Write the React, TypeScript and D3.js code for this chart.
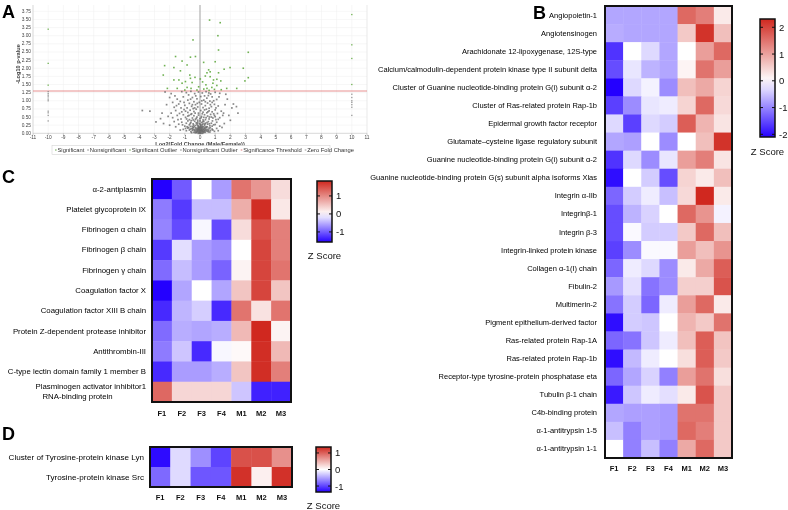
import { useEffect, useRef } from 'react';
import * as d3 from 'd3';

const FONT = '"Liberation Sans", Arial, Helvetica, sans-serif';
const BLUE = '#2400ff';
const RED = '#d0281f';
const SAMPLES = ['F1', 'F2', 'F3', 'F4', 'M1', 'M2', 'M3'];

// ---- Panel A: volcano plot ----
const X_TICKS = d3.range(-11, 12);
const Y_TICKS = d3.range(0, 3.76, 0.25);
const SIG_THRESHOLD = 1.3;
const LEGEND_ITEMS = ['Significant', 'Nonsignificant', 'Significant Outlier', 'Nonsignificant Outlier', 'Significance Threshold', 'Zero Fold Change'];
const LEGEND_COLORS = ['#6aa84f', '#888', '#6aa84f', '#888', '#e07a7a', '#999'];

const SIG_POINTS: [number, number][] = [
  [0.63, 3.48], [1.33, 3.4], [-0.46, 2.87], [1.18, 3.0], [1.22, 2.56], [3.18, 2.49],
  [-1.61, 2.36], [-0.63, 2.34], [-0.3, 2.36], [-1.18, 2.22], [0.24, 2.18], [1.0, 2.2],
  [-2.33, 2.08], [-1.72, 2.02], [-0.85, 2.1], [1.98, 2.02], [2.85, 2.0], [1.59, 1.97],
  [-1.29, 1.92], [0.57, 1.95], [-2.42, 1.79], [1.22, 1.86], [3.18, 1.71], [2.96, 1.61],
  [-1.72, 1.64], [-1.39, 1.64], [-0.63, 1.69], [0.02, 1.67], [0.35, 1.76], [0.67, 1.74],
  [0.89, 1.64], [1.11, 1.66], [1.37, 1.61], [0.85, 1.54], [-0.96, 1.59], [-1.18, 1.54],
  [-0.52, 1.56], [-2.15, 1.38], [-1.5, 1.38], [-0.85, 1.41], [-0.59, 1.38], [-0.09, 1.43],
  [0.46, 1.38], [0.78, 1.41], [1.11, 1.47], [1.76, 1.38], [2.42, 1.38], [0.67, 1.89],
  [0.46, 1.86], [-0.67, 1.79], [-0.33, 1.72], [0.39, 1.49], [0.17, 1.58], [0.95, 1.35],
  [-0.2, 1.33], [0.6, 1.32], [-1.0, 1.33], [1.4, 1.34], [0.25, 1.36],
];

const NONSIG_POINTS: [number, number][] = [
  [-2.3, 1.27], [-1.9, 1.22], [-1.2, 1.28], [-0.9, 1.25], [-0.6, 1.29], [-0.35, 1.22], [-0.1, 1.27],
  [0.15, 1.24], [0.4, 1.28], [0.7, 1.21], [1.0, 1.26], [1.3, 1.23], [1.7, 1.2], [-0.75, 1.18], [0.55, 1.16],
  [-2.0, 1.1], [-1.5, 1.05], [-1.1, 1.12], [-0.8, 1.02], [-0.5, 1.1], [-0.2, 1.06], [0.05, 1.13],
  [0.25, 1.02], [0.45, 1.08], [0.8, 1.12], [1.1, 1.04], [1.8, 1.05], [-1.3, 0.98], [-0.4, 0.97],
  [0.65, 0.99], [0.3, 1.15], [-0.05, 0.95],
  [-1.7, 0.8], [-1.4, 0.9], [-1.0, 0.86], [-0.7, 0.92], [-0.55, 0.83], [-0.3, 0.88], [-0.15, 0.81],
  [0.1, 0.9], [0.35, 0.85], [0.5, 0.93], [0.75, 0.82], [0.95, 0.89], [1.2, 0.84], [2.2, 0.9], [2.1, 0.78],
  [-2.2, 0.88], [-0.85, 0.78], [0.6, 0.77], [0.2, 0.79], [-0.45, 0.76],
  [-3.8, 0.7], [-3.3, 0.68], [-1.9, 0.62], [-1.6, 0.7], [-1.2, 0.66], [-1.05, 0.73], [-0.8, 0.64],
  [-0.65, 0.71], [-0.4, 0.67], [-0.25, 0.74], [-0.1, 0.62], [0.05, 0.7], [0.2, 0.65], [0.3, 0.72],
  [0.45, 0.63], [0.6, 0.69], [0.8, 0.66], [1.0, 0.72], [1.15, 0.61], [1.4, 0.68], [2.5, 0.62],
  [-0.55, 0.6], [0.9, 0.6], [-1.35, 0.61],
  [-2.6, 0.45], [-2.1, 0.52], [-1.8, 0.48], [-1.5, 0.55], [-1.25, 0.44], [-1.1, 0.57], [-0.95, 0.49],
  [-0.8, 0.53], [-0.7, 0.42], [-0.6, 0.58], [-0.5, 0.47], [-0.4, 0.54], [-0.3, 0.43], [-0.2, 0.5],
  [-0.1, 0.56], [0.0, 0.45], [0.1, 0.52], [0.2, 0.41], [0.3, 0.57], [0.4, 0.48], [0.5, 0.53],
  [0.6, 0.44], [0.7, 0.58], [0.85, 0.47], [1.0, 0.51], [1.2, 0.43], [1.5, 0.55], [1.9, 0.55],
  [2.0, 0.4], [-0.15, 0.4], [0.25, 0.49], [-0.45, 0.41], [0.75, 0.5],
  [-2.9, 0.35], [-2.4, 0.3], [-2.0, 0.25], [-1.7, 0.36], [-1.4, 0.28], [-1.2, 0.34], [-1.0, 0.22],
  [-0.9, 0.31], [-0.8, 0.38], [-0.7, 0.26], [-0.6, 0.33], [-0.5, 0.21], [-0.45, 0.29], [-0.35, 0.37],
  [-0.3, 0.24], [-0.25, 0.32], [-0.2, 0.27], [-0.15, 0.35], [-0.1, 0.22], [-0.05, 0.3], [0.0, 0.38],
  [0.05, 0.25], [0.1, 0.33], [0.15, 0.21], [0.2, 0.29], [0.25, 0.37], [0.3, 0.24], [0.35, 0.31],
  [0.4, 0.2], [0.5, 0.28], [0.55, 0.36], [0.65, 0.23], [0.75, 0.31], [0.9, 0.26], [1.1, 0.34],
  [1.3, 0.22], [1.6, 0.3], [-1.6, 0.2],
  [-1.1, 0.12], [-0.9, 0.08], [-0.8, 0.16], [-0.7, 0.1], [-0.6, 0.05], [-0.55, 0.14], [-0.5, 0.09],
  [-0.45, 0.18], [-0.4, 0.03], [-0.35, 0.12], [-0.3, 0.07], [-0.28, 0.17], [-0.25, 0.02], [-0.2, 0.1],
  [-0.18, 0.15], [-0.15, 0.05], [-0.12, 0.19], [-0.1, 0.08], [-0.08, 0.13], [-0.05, 0.02], [-0.03, 0.17],
  [0.0, 0.06], [0.0, 0.11], [0.02, 0.15], [0.04, 0.01], [0.06, 0.09], [0.08, 0.18], [0.1, 0.04],
  [0.12, 0.13], [0.15, 0.07], [0.18, 0.16], [0.2, 0.02], [0.22, 0.11], [0.25, 0.06], [0.28, 0.15],
  [0.3, 0.09], [0.35, 0.03], [0.38, 0.13], [0.42, 0.18], [0.45, 0.07], [0.5, 0.12], [0.55, 0.04],
  [0.6, 0.16], [0.7, 0.09], [0.8, 0.13], [0.95, 0.06], [1.1, 0.15], [-0.02, 0.0], [0.07, 0.0],
  [-0.12, 0.0], [0.16, 0.0], [-0.07, 0.04], [0.03, 0.08], [-0.04, 0.12], [0.1, 0.1], [-0.16, 0.09],
  [0.19, 0.05], [-0.09, 0.16], [0.13, 0.19], [-0.22, 0.06], [0.26, 0.12],
  // denser core
  [-1.05, 0.95], [-0.62, 1.05], [0.12, 1.0], [0.9, 1.0], [1.25, 1.12], [-0.28, 1.15], [0.58, 1.24],
  [-1.55, 0.85], [-0.95, 0.68], [-0.35, 0.78], [0.42, 0.74], [0.68, 0.88], [1.05, 0.78], [-0.18, 0.92],
  [-1.25, 0.78], [-0.72, 0.55], [-0.32, 0.62], [0.15, 0.6], [0.52, 0.66], [0.95, 0.55], [1.3, 0.48],
  [-1.45, 0.42], [-0.88, 0.44], [-0.58, 0.39], [-0.24, 0.46], [0.08, 0.48], [0.36, 0.42], [0.62, 0.5],
  [0.82, 0.38], [1.05, 0.42], [-1.15, 0.26], [-0.85, 0.2], [-0.65, 0.3], [-0.42, 0.25], [-0.18, 0.31],
  [0.02, 0.28], [0.18, 0.35], [0.32, 0.28], [0.46, 0.33], [0.62, 0.29], [0.8, 0.22], [1.0, 0.27],
  [-0.75, 0.18], [-0.62, 0.21], [-0.48, 0.15], [-0.38, 0.2], [-0.26, 0.13], [-0.14, 0.24], [-0.06, 0.19],
  [0.05, 0.22], [0.14, 0.26], [0.24, 0.2], [0.33, 0.17], [0.48, 0.2], [0.58, 0.1], [0.68, 0.17],
  [0.85, 0.1], [-0.95, 0.15], [-0.32, 0.02], [-0.21, 0.03], [-0.14, 0.12], [-0.01, 0.03], [0.09, 0.14],
  [0.17, 0.1], [0.27, 0.03], [0.33, 0.07], [0.4, 0.1], [-0.35, 0.08], [-0.45, 0.11], [-0.55, 0.02],
  [0.52, 0.07], [0.65, 0.04], [-0.65, 0.13], [-0.05, 0.09], [0.01, 0.19], [0.11, 0.07], [-0.11, 0.14],
  [1.2, 0.08], [1.45, 0.18], [-1.3, 0.1], [1.55, 0.62], [-1.8, 0.95], [2.4, 0.82], [-2.5, 0.62],
  [1.65, 0.88], [-1.65, 1.15], [0.35, 0.97], [-0.5, 0.88], [0.8, 0.95],
];

const SIG_OUTLIERS: [number, number][] = [
  [-10, 3.2], [-10, 2.15], [-10, 1.48], [10, 3.65], [10, 2.72], [10, 2.3], [10, 1.5],
];
const NONSIG_OUTLIERS: [number, number][] = [
  [-10, 1.28], [-10, 1.22], [-10, 1.17], [-10, 1.12], [-10, 1.05], [-10, 1.0], [-10, 0.68],
  [-10, 0.63], [-10, 0.55], [-10, 0.38],
  [10, 1.2], [10, 1.1], [10, 1.0], [10, 0.95], [10, 0.88], [10, 0.8], [10, 0.55],
];

// ---- Panel B ----
const B_PROTEINS = [
  'Angiopoietin-1',
  'Angiotensinogen',
  'Arachidonate 12-lipoxygenase, 12S-type',
  'Calcium/calmodulin-dependent protein kinase type II subunit delta',
  'Cluster of Guanine nucleotide-binding protein G(i) subunit α-2',
  'Cluster of Ras-related protein Rap-1b',
  'Epidermal growth factor receptor',
  'Glutamate\u2013cysteine ligase regulatory subunit',
  'Guanine nucleotide-binding protein G(i) subunit α-2',
  'Guanine nucleotide-binding protein G(s) subunit alpha isoforms Xlas',
  'Integrin α-IIb',
  'Integrinβ-1',
  'Integrin β-3',
  'Integrin-linked protein kinase',
  'Collagen α-1(I) chain',
  'Fibulin-2',
  'Multimerin-2',
  'Pigment epithelium-derived factor',
  'Ras-related protein Rap-1A',
  'Ras-related protein Rap-1b',
  'Receptor-type tyrosine-protein phosphatase eta',
  'Tubulin β-1 chain',
  'C4b-binding protein',
  'α-1-antitrypsin 1-5',
  'α-1-antitrypsin 1-1',
];
const B_Z = [
  [-0.7, -0.7, -0.7, -0.7, 1.4, 1.2, 0.2],
  [-0.65, -0.7, -0.7, -0.7, 0.5, 1.9, 0.6],
  [-1.6, 0.0, -0.3, -0.7, 0.0, 0.9, 1.4],
  [-1.4, -0.2, -0.6, -0.7, 0.1, 1.3, 0.9],
  [-2.0, -0.3, -0.1, -0.9, 0.6, 0.8, 0.4],
  [-1.5, -0.9, -0.2, -0.15, 0.4, 1.4, 0.35],
  [-0.3, -1.5, -0.3, -0.4, 1.5, 0.7, 0.25],
  [-0.7, -0.75, 0.0, -0.9, 0.0, 0.6, 1.9],
  [-1.6, -0.3, -0.9, -0.2, 0.9, 1.2, 0.25],
  [-1.9, 0.0, -0.4, -1.4, 0.4, 0.2, 0.6],
  [-1.2, -0.4, -0.15, -0.5, 0.35, 2.0, 0.2],
  [-1.4, -0.6, -0.35, 0.0, 1.4, 1.0, -0.1],
  [-1.4, -0.05, -0.4, -0.4, 0.5, 1.4, 0.6],
  [-1.5, -0.9, -0.05, -0.05, 0.9, 0.6, 1.0],
  [-1.2, -0.15, -0.3, -0.9, 0.2, 0.8, 1.5],
  [-0.8, -0.25, -1.1, -0.9, 0.45, 0.45, 1.6],
  [-1.1, -0.4, -1.2, -0.15, 0.9, 1.4, 0.2],
  [-1.9, -0.4, -0.45, 0.0, 0.7, 0.5, 1.3],
  [-1.2, -1.1, -0.45, -0.15, 0.6, 1.5, 0.55],
  [-1.9, -0.55, -0.15, 0.0, 0.3, 1.5, 0.5],
  [-1.2, -0.7, -0.35, -1.0, 0.9, 1.3, 0.3],
  [-1.8, -0.45, -0.15, -0.25, 0.2, 1.6, 0.5],
  [-0.7, -0.75, -0.75, -0.8, 1.3, 1.3, 0.5],
  [-0.5, -1.0, -0.75, -0.8, 1.4, 1.2, 0.5],
  [0.0, -1.0, -0.5, -1.0, 0.8, 1.4, 0.5],
];
const B_TICKS = [2, 1, 0, -1, -2];

// ---- Panel C ----
const C_PROTEINS = [
  'α-2-antiplasmin',
  'Platelet glycoprotein IX',
  'Fibrinogen α chain',
  'Fibrinogen β chain',
  'Fibrinogen γ chain',
  'Coagulation factor X',
  'Coagulation factor XIII B chain',
  'Protein Z-dependent protease inhibitor',
  'Antithrombin-III',
  'C-type lectin domain family 1 member B',
  'Plasminogen activator inhibitor1\nRNA-binding protein',
];
const C_Z = [
  [-1.55, -1.0, 0.0, -0.6, 1.2, 0.9, 0.3],
  [-0.8, -1.2, -0.4, -0.4, 0.7, 1.8, 0.2],
  [-0.75, -1.1, -0.05, -1.1, 0.3, 1.5, 1.1],
  [-1.2, -0.2, -0.6, -0.7, 0.0, 1.6, 1.1],
  [-0.9, -0.4, -0.6, -0.95, 0.1, 1.6, 1.2],
  [-1.55, -0.55, 0.0, -0.55, 0.5, 1.6, 0.5],
  [-1.3, -0.45, -0.3, -1.3, 1.2, 0.25, 1.2],
  [-0.9, -0.5, -0.55, -0.5, 0.6, 1.9, 0.1],
  [-0.8, -0.35, -1.3, -0.05, 0.05, 1.8, 0.6],
  [-1.3, -0.6, -0.6, -0.5, 0.5, 1.8, 1.1],
  [1.3, 0.35, 0.35, 0.35, -0.35, -1.35, -1.35],
];
const C_TICKS = [1, 0, -1];

// ---- Panel D ----
const D_PROTEINS = ['Cluster of Tyrosine-protein kinase Lyn', 'Tyrosine-protein kinase Src'];
const D_Z = [
  [-1.3, -0.2, -0.6, -1.0, 1.1, 1.1, 0.7],
  [-0.8, -0.2, -0.9, -0.9, 1.3, 0.1, 1.3],
];
const D_TICKS = [1, 0, -1];

type Sel = d3.Selection<SVGGElement, unknown, null, undefined>;

function drawHeatmap(
  g: Sel,
  opts: {
    x0: number; y0: number; w: number; h: number;
    labels: string[]; values: number[][]; zMin: number; zMax: number;
    labelX: number; colLabelY: number; labelSize: number;
  },
) {
  const { x0, y0, w, h, labels, values, zMin, zMax, labelX, colLabelY, labelSize } = opts;
  const color = d3.scaleLinear<string>().domain([zMin, 0, zMax]).range([BLUE, '#ffffff', RED]).clamp(true);
  const x = d3.scaleBand<string>().domain(SAMPLES).range([x0, x0 + w]);
  const y = d3.scaleBand<number>().domain(d3.range(labels.length)).range([y0, y0 + h]);

  values.forEach((row, i) => {
    row.forEach((v, j) => {
      g.append('rect')
        .attr('x', x(SAMPLES[j])!)
        .attr('y', y(i)!)
        .attr('width', x.bandwidth() + 0.4)
        .attr('height', y.bandwidth() + 0.4)
        .attr('fill', color(v));
    });
  });

  g.append('rect')
    .attr('x', x0).attr('y', y0).attr('width', w).attr('height', h)
    .attr('fill', 'none').attr('stroke', '#111').attr('stroke-width', 2);

  labels.forEach((lab, i) => {
    const lines = lab.split('\n');
    const cy = y(i)! + y.bandwidth() / 2;
    if (lines.length === 1) {
      g.append('text')
        .attr('x', labelX).attr('y', cy)
        .attr('text-anchor', 'end').attr('dominant-baseline', 'central')
        .attr('font-size', labelSize).attr('fill', '#000')
        .text(lab);
    } else {
      const t = g.append('text')
        .attr('x', labelX).attr('y', cy - 5)
        .attr('text-anchor', 'end').attr('dominant-baseline', 'central')
        .attr('font-size', labelSize).attr('fill', '#000')
        .text(lines[0]);
      const len = (t.node() as SVGTextElement).getComputedTextLength();
      g.append('text')
        .attr('x', labelX - len + 7).attr('y', cy + 5)
        .attr('dominant-baseline', 'central')
        .attr('font-size', labelSize).attr('fill', '#000')
        .text(lines[1]);
    }
  });

  SAMPLES.forEach((s) => {
    g.append('text')
      .attr('x', x(s)! + x.bandwidth() / 2).attr('y', colLabelY)
      .attr('text-anchor', 'middle').attr('dominant-baseline', 'central')
      .attr('font-size', 7.5).attr('font-weight', 700).attr('fill', '#111')
      .text(s);
  });
}

function drawColorbar(
  g: Sel, id: string,
  opts: { x0: number; y0: number; w: number; h: number; zMin: number; zMax: number; ticks: number[]; titleY: number },
) {
  const { x0, y0, w, h, zMin, zMax, ticks, titleY } = opts;
  const y = d3.scaleLinear().domain([zMin, zMax]).range([y0 + h, y0]);
  const color = d3.scaleLinear<string>().domain([zMin, 0, zMax]).range([BLUE, '#ffffff', RED]);
  const grad = g.append('defs').append('linearGradient')
    .attr('id', id).attr('x1', 0).attr('y1', 1).attr('x2', 0).attr('y2', 0);
  d3.range(0, 1.001, 0.1).forEach((t) => {
    const v = zMin + t * (zMax - zMin);
    grad.append('stop').attr('offset', t).attr('stop-color', color(v));
  });
  g.append('rect')
    .attr('x', x0).attr('y', y0).attr('width', w).attr('height', h)
    .attr('fill', `url(#${id})`).attr('stroke', '#111').attr('stroke-width', 1.5);
  ticks.forEach((t) => {
    const ty = y(t);
    g.append('line').attr('x1', x0).attr('x2', x0 + 3).attr('y1', ty).attr('y2', ty).attr('stroke', '#111').attr('stroke-width', 1);
    g.append('line').attr('x1', x0 + w - 3).attr('x2', x0 + w).attr('y1', ty).attr('y2', ty).attr('stroke', '#111').attr('stroke-width', 1);
    g.append('text')
      .attr('x', x0 + w + 4).attr('y', ty)
      .attr('dominant-baseline', 'central')
      .attr('font-size', 9.5).attr('fill', '#111')
      .text(t < 0 ? `-${Math.abs(t)}` : `${t}`);
  });
  g.append('text')
    .attr('x', x0 + w / 2).attr('y', titleY)
    .attr('text-anchor', 'middle').attr('dominant-baseline', 'central')
    .attr('font-size', 9.5).attr('fill', '#111')
    .text('Z Score');
}

export default function App() {
  const svgRef = useRef<SVGSVGElement>(null);

  useEffect(() => {
    if (!svgRef.current) return;
    const svg = d3.select(svgRef.current);
    svg.selectAll('*').remove();
    const root = svg.append('g') as unknown as Sel;

    // Panel letters
    const letters: [string, number, number][] = [['A', 2, 18], ['B', 533, 19], ['C', 2, 183], ['D', 2, 440]];
    letters.forEach(([t, x, y]) => {
      root.append('text').attr('x', x).attr('y', y)
        .attr('font-size', 18).attr('font-weight', 700).attr('fill', '#000').text(t);
    });

    // ---------- Panel A ----------
    const a = root.append('g') as unknown as Sel;
    const xs = d3.scaleLinear().domain([-11, 11]).range([33, 367]);
    const ys = d3.scaleLinear().domain([0, 3.75]).range([133.3, 11.3]);
    const plotTop = 5;

    X_TICKS.forEach((t) => {
      a.append('line').attr('x1', xs(t)).attr('x2', xs(t)).attr('y1', plotTop).attr('y2', 133.3)
        .attr('stroke', '#efefef').attr('stroke-width', 0.5);
    });
    Y_TICKS.forEach((t) => {
      a.append('line').attr('x1', 33).attr('x2', 367).attr('y1', ys(t)).attr('y2', ys(t))
        .attr('stroke', '#efefef').attr('stroke-width', 0.5);
    });
    a.append('line').attr('x1', 367).attr('x2', 367).attr('y1', plotTop).attr('y2', 133.3).attr('stroke', '#ddd').attr('stroke-width', 0.5);

    // axes
    a.append('line').attr('x1', 33).attr('x2', 367).attr('y1', 133.3).attr('y2', 133.3).attr('stroke', '#bbb').attr('stroke-width', 0.5);
    a.append('line').attr('x1', 33).attr('x2', 33).attr('y1', plotTop).attr('y2', 133.3).attr('stroke', '#bbb').attr('stroke-width', 0.5);
    X_TICKS.forEach((t) => {
      a.append('line').attr('x1', xs(t)).attr('x2', xs(t)).attr('y1', 133.3).attr('y2', 135).attr('stroke', '#999').attr('stroke-width', 0.5);
      a.append('text').attr('x', xs(t)).attr('y', 137.5)
        .attr('text-anchor', 'middle').attr('dominant-baseline', 'central')
        .attr('font-size', 4.8).attr('fill', '#444').text(String(t));
    });
    Y_TICKS.forEach((t) => {
      a.append('text').attr('x', 31).attr('y', ys(t))
        .attr('text-anchor', 'end').attr('dominant-baseline', 'central')
        .attr('font-size', 4.8).attr('fill', '#444').text(t.toFixed(2));
    });
    a.append('text').attr('x', 200).attr('y', 143.5)
      .attr('text-anchor', 'middle').attr('dominant-baseline', 'central')
      .attr('font-size', 5.6).attr('font-weight', 700).attr('fill', '#444')
      .text('Log2(Fold Change (Male/Female))');
    a.append('text').attr('transform', 'translate(18,64) rotate(-90)')
      .attr('text-anchor', 'middle').attr('dominant-baseline', 'central')
      .attr('font-size', 5.6).attr('font-weight', 700).attr('fill', '#444')
      .text('-Log10 p-value');

    // reference lines
    a.append('line').attr('x1', xs(0)).attr('x2', xs(0)).attr('y1', plotTop).attr('y2', 133.3)
      .attr('stroke', '#a5a5a5').attr('stroke-width', 1);
    a.append('line').attr('x1', 33).attr('x2', 367).attr('y1', ys(SIG_THRESHOLD)).attr('y2', ys(SIG_THRESHOLD))
      .attr('stroke', '#e48585').attr('stroke-width', 0.9);

    const dot = (pts: [number, number][], fill: string, size: number, op: number) => {
      pts.forEach(([px, py]) => {
        a.append('rect')
          .attr('x', xs(px) - size / 2).attr('y', ys(py) - size / 2)
          .attr('width', size).attr('height', size)
          .attr('fill', fill).attr('opacity', op);
      });
    };
    dot(NONSIG_POINTS, '#6a6a6a', 1.7, 0.8);
    dot(NONSIG_OUTLIERS, '#808080', 1.3, 0.8);
    dot(SIG_POINTS, '#5fa83f', 1.6, 0.9);
    dot(SIG_OUTLIERS, '#5fa83f', 1.3, 0.9);

    // legend
    a.append('rect').attr('x', 52).attr('y', 145.5).attr('width', 278).attr('height', 9)
      .attr('fill', '#fff').attr('stroke', '#ccc').attr('stroke-width', 0.5);
    let lx = 55;
    LEGEND_ITEMS.forEach((item, i) => {
      a.append('rect').attr('x', lx).attr('y', 149.5).attr('width', 1.6).attr('height', 1)
        .attr('fill', LEGEND_COLORS[i]);
      const t = a.append('text').attr('x', lx + 2.5).attr('y', 150.2)
        .attr('dominant-baseline', 'central')
        .attr('font-size', 5.8).attr('fill', '#333').text(item);
      lx += 2.5 + (t.node() as SVGTextElement).getComputedTextLength() + 3;
    });

    // ---------- Panel B ----------
    const b = root.append('g') as unknown as Sel;
    drawHeatmap(b, {
      x0: 605, y0: 6, w: 127, h: 452, labels: B_PROTEINS, values: B_Z,
      zMin: -2, zMax: 2, labelX: 597, colLabelY: 468, labelSize: 7.5,
    });
    drawColorbar(b, 'gradB', { x0: 760, y0: 19, w: 15, h: 118, zMin: -2.1, zMax: 2.31, ticks: B_TICKS, titleY: 151 });

    // ---------- Panel C ----------
    const c = root.append('g') as unknown as Sel;
    drawHeatmap(c, {
      x0: 152, y0: 179, w: 139, h: 223, labels: C_PROTEINS, values: C_Z,
      zMin: -1.55, zMax: 1.85, labelX: 146, colLabelY: 413, labelSize: 7.8,
    });
    drawColorbar(c, 'gradC', { x0: 317, y0: 181, w: 15, h: 61, zMin: -1.56, zMax: 1.83, ticks: C_TICKS, titleY: 255 });

    // ---------- Panel D ----------
    const dd = root.append('g') as unknown as Sel;
    drawHeatmap(dd, {
      x0: 150, y0: 447, w: 142, h: 40, labels: D_PROTEINS, values: D_Z,
      zMin: -1.36, zMax: 1.36, labelX: 144, colLabelY: 497, labelSize: 8.1,
    });
    drawColorbar(dd, 'gradD', { x0: 316, y0: 447, w: 15, h: 45, zMin: -1.36, zMax: 1.36, ticks: D_TICKS, titleY: 505 });
  }, []);

  return (
    <div style={{ position: 'absolute', left: 0, top: 0, width: 788, height: 510, background: '#fff' }}>
      <svg
        ref={svgRef}
        width={788}
        height={510}
        style={{ display: 'block', fontFamily: FONT, willChange: 'transform', transform: 'translateZ(0)' }}
      />
    </div>
  );
}
